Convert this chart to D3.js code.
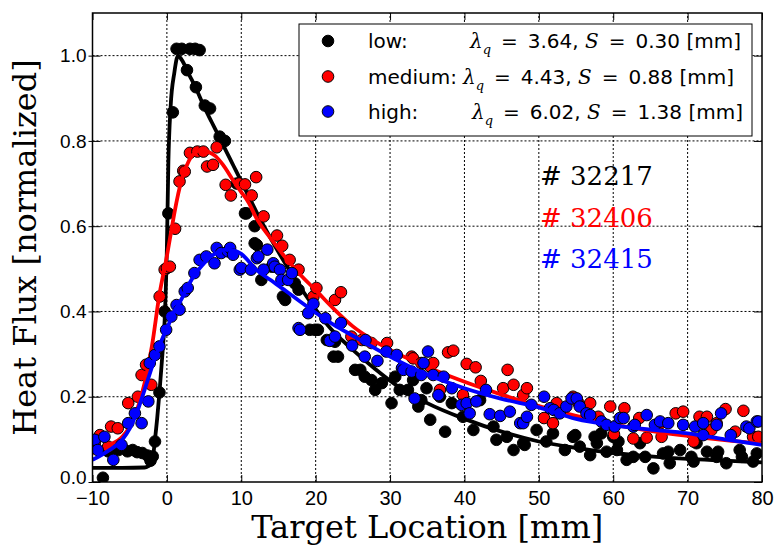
<!DOCTYPE html>
<html>
<head>
<meta charset="utf-8">
<script src="https://cdn.jsdelivr.net/npm/d3@7"></script>
<style>
  body { margin: 0; background: #fff; }
  svg { display: block; }
</style>
</head>
<body>
<div id="chart"></div>
<script>
// measured points, [target location mm, normalized heat flux]
const lowPoints = [[-8.6,0.01],[-7.9,0.072],[-7.2,0.078],[-6.5,0.075],[-6.0,0.08],[-5.3,0.072],[-4.6,0.075],[-4.0,0.07],[-3.3,0.068],[-2.6,0.062],[-2.2,0.05],[-1.9,0.06],[-1.6,0.095],[-1.0,0.21],[-0.3,0.40],[0.2,0.63],[0.8,0.867],[1.3,1.016],[2.0,1.016],[3.1,1.016],[3.8,1.016],[4.4,1.013],[2.7,0.966],[3.9,0.926],[5.1,0.883],[5.8,0.876],[7.1,0.81],[7.8,0.80],[9.4,0.70],[10.5,0.63],[10.7,0.63],[11.8,0.60],[11.8,0.56],[12.1,0.556],[12.7,0.474],[14.1,0.505],[15.6,0.435],[15.9,0.427],[17.2,0.466],[17.7,0.451],[19.2,0.357],[19.9,0.357],[20.3,0.357],[21.5,0.333],[22.4,0.294],[22.6,0.329],[23.0,0.294],[25.3,0.263],[26.0,0.263],[26.6,0.247],[27.5,0.239],[28.0,0.216],[28.9,0.232],[30.2,0.185],[30.7,0.247],[31.3,0.216],[32.4,0.216],[33.1,0.239],[33.8,0.177],[34.2,0.192],[34.9,0.22],[35.4,0.146],[36.7,0.2],[37.4,0.118],[38.3,0.185],[39.8,0.153],[41.2,0.122],[42.1,0.192],[43.9,0.130],[44.3,0.099],[45.7,0.106],[46.6,0.075],[47.9,0.091],[48.1,0.087],[49.7,0.122],[51.0,0.095],[51.9,0.114],[53.5,0.075],[54.6,0.106],[54.9,0.11],[55.5,0.083],[56.9,0.063],[57.5,0.106],[57.8,0.091],[58.4,0.114],[59.1,0.071],[60.0,0.106],[60.5,0.075],[60.7,0.095],[61.8,0.052],[62.7,0.059],[63.6,0.091],[64.3,0.059],[65.4,0.032],[66.7,0.067],[67.4,0.071],[67.6,0.044],[69.0,0.075],[70.5,0.059],[70.8,0.048],[71.2,0.091],[72.6,0.071],[73.9,0.059],[74.1,0.071],[75.2,0.044],[77.0,0.075],[77.3,0.059],[78.8,0.048],[79.3,0.067]];

const mediumPoints = [[-9.7,0.091],[-9.0,0.11],[-7.9,0.083],[-7.5,0.13],[-6.6,0.126],[-5.2,0.185],[-3.9,0.2],[-3.4,0.251],[-2.8,0.275],[-2.1,0.228],[-0.97,0.435],[-0.3,0.498],[0.0,0.502],[0.4,0.505],[1.1,0.594],[1.7,0.705],[2.2,0.73],[2.4,0.728],[3.1,0.772],[4.1,0.775],[4.9,0.775],[5.4,0.74],[6.2,0.744],[6.7,0.785],[7.9,0.697],[8.6,0.672],[9.7,0.70],[10.5,0.698],[11.4,0.672],[12.0,0.715],[13.0,0.623],[14.8,0.578],[15.5,0.554],[16.5,0.521],[17.7,0.498],[19.7,0.435],[20.1,0.455],[22.6,0.427],[23.4,0.445],[24.8,0.341],[26.2,0.333],[27.5,0.326],[29.6,0.326],[32.9,0.294],[33.1,0.29],[34.2,0.279],[35.4,0.271],[35.8,0.279],[36.7,0.216],[37.8,0.304],[38.5,0.308],[39.8,0.204],[40.3,0.277],[41.5,0.269],[42.2,0.237],[45.2,0.22],[45.8,0.263],[46.6,0.228],[47.9,0.204],[48.4,0.22],[50.7,0.15],[51.9,0.138],[52.4,0.185],[54.6,0.2],[55.3,0.186],[56.9,0.185],[58.0,0.153],[59.6,0.177],[60.1,0.112],[61.5,0.173],[62.7,0.102],[63.5,0.15],[64.5,0.104],[66.4,0.138],[66.5,0.106],[68.4,0.161],[69.4,0.165],[70.8,0.095],[71.6,0.153],[72.6,0.153],[73.2,0.122],[73.9,0.138],[75.1,0.171],[76.4,0.118],[77.5,0.167],[78.8,0.106],[79.5,0.106]];

const highPoints = [[-9.7,0.099],[-9.3,0.075],[-8.4,0.106],[-7.2,0.052],[-6.1,0.087],[-5.2,0.138],[-4.3,0.161],[-3.4,0.138],[-2.5,0.189],[-2.3,0.279],[-1.6,0.298],[-1.0,0.318],[-0.1,0.357],[0.6,0.388],[1.3,0.415],[1.7,0.404],[2.4,0.447],[2.8,0.455],[3.7,0.49],[4.4,0.521],[5.3,0.529],[6.4,0.513],[6.7,0.549],[7.3,0.537],[8.2,0.541],[8.5,0.549],[8.9,0.533],[9.8,0.498],[10.0,0.502],[11.3,0.498],[12.1,0.525],[12.3,0.529],[13.0,0.498],[13.5,0.545],[14.3,0.513],[14.5,0.505],[15.2,0.498],[15.4,0.474],[16.3,0.474],[16.8,0.49],[17.7,0.361],[17.9,0.357],[19.0,0.396],[19.7,0.418],[21.3,0.384],[21.9,0.331],[22.6,0.341],[23.4,0.373],[24.9,0.32],[26.7,0.333],[26.6,0.294],[28.3,0.284],[29.5,0.306],[30.9,0.298],[31.6,0.267],[31.8,0.263],[32.9,0.259],[33.3,0.196],[34.2,0.251],[34.5,0.279],[35.1,0.306],[35.8,0.251],[36.5,0.204],[37.2,0.247],[38.3,0.22],[39.6,0.181],[40.3,0.185],[40.7,0.161],[41.6,0.189],[42.9,0.216],[43.4,0.159],[44.8,0.155],[46.1,0.165],[47.5,0.138],[47.9,0.138],[48.4,0.153],[49.0,0.181],[50.7,0.2],[51.5,0.173],[52.0,0.169],[52.8,0.161],[53.7,0.177],[54.4,0.196],[55.1,0.196],[55.5,0.177],[56.4,0.161],[56.9,0.157],[58.4,0.142],[59.1,0.134],[60.2,0.13],[60.9,0.15],[61.4,0.15],[62.7,0.13],[62.9,0.134],[64.5,0.157],[65.6,0.134],[66.3,0.142],[67.4,0.138],[69.4,0.134],[71.0,0.13],[72.1,0.11],[72.1,0.138],[73.9,0.134],[74.5,0.161],[75.8,0.11],[77.9,0.13],[78.3,0.126],[79.3,0.142],[79.5,0.142]];

// fitted profiles
const lowFit = [[-10,0.033],[-6,0.033],[-3,0.034],[-2.5,0.037],[-2,0.045],[-1.6,0.1],[-1.3,0.15],[-1,0.21],[-0.6,0.3],[-0.3,0.38],[0,0.55],[0.2,0.75],[0.5,0.88],[1,0.96],[1.5,1.0],[2,0.99],[3,0.955],[4,0.92],[5,0.88],[6,0.845],[7,0.81],[8,0.775],[9,0.74],[10,0.705],[12,0.635],[14,0.57],[16,0.51],[18,0.455],[20,0.405],[22,0.36],[25,0.31],[28,0.265],[31,0.225],[35,0.185],[40,0.148],[45,0.118],[50,0.095],[55,0.08],[60,0.068],[65,0.06],[70,0.054],[75,0.05],[80,0.046]];

const mediumFit = [[-10,0.068],[-8,0.085],[-6,0.106],[-5,0.13],[-4,0.17],[-3,0.232],[-2,0.32],[-1,0.44],[0,0.53],[0.6,0.59],[1,0.63],[2,0.71],[3,0.755],[4,0.775],[4.6,0.78],[5.5,0.775],[6.5,0.765],[7.5,0.745],[9,0.705],[10,0.68],[11,0.655],[12,0.62],[14,0.57],[16,0.525],[18,0.485],[20,0.45],[22.5,0.405],[25,0.365],[27.5,0.335],[30,0.31],[35,0.27],[40,0.235],[45,0.205],[50,0.178],[55,0.155],[60,0.135],[65,0.12],[70,0.108],[75,0.098],[80,0.09]];

const highFit = [[-10,0.052],[-8,0.072],[-6,0.099],[-5,0.125],[-4,0.165],[-3,0.216],[-2,0.27],[-1,0.32],[0,0.36],[1,0.4],[2,0.43],[3,0.465],[4,0.492],[5,0.513],[6,0.53],[7,0.54],[8,0.545],[9,0.543],[10,0.535],[12,0.498],[14,0.473],[16,0.448],[18,0.422],[20,0.397],[22.5,0.368],[25,0.343],[27.5,0.318],[30,0.294],[35,0.252],[40,0.22],[45,0.195],[50,0.175],[55,0.148],[60,0.133],[65,0.123],[70,0.114],[75,0.1],[80,0.087]];

const seriesNames = ["low:", "medium:", "high:"];
const seriesColors = ["#000000", "#ff0000", "#0000ff"];
const lambdaValues = ["3.64", "4.43", "6.02"];
const sValues = ["0.30", "0.88", "1.38"];
const shotLabels = ["# 32217", "# 32406", "# 32415"];
const xTicks = [-10, 0, 10, 20, 30, 40, 50, 60, 70, 80];
const yTicks = [0, 0.2, 0.4, 0.6, 0.8, 1.0];

const width = 779, height = 549;
const margin = { left: 92.5, right: 17, top: 13, bottom: 67 };

const x = d3.scaleLinear().domain([-10, 80]).range([margin.left, width - margin.right]);
const y = d3.scaleLinear().domain([0, 1.1]).range([height - margin.bottom, margin.top]);

const svg = d3.select('#chart').append('svg')
    .attr('width', width)
    .attr('height', height)
    .style('font-family', '"DejaVu Serif", serif');

svg.append('defs').append('clipPath').attr('id', 'plotClip')
    .append('rect')
    .attr('x', x(-10)).attr('y', y(1.1))
    .attr('width', x(80) - x(-10)).attr('height', y(0) - y(1.1));

// dotted grid
const grid = svg.append('g').attr('class', 'grid')
    .attr('stroke', '#000').attr('stroke-width', 1).attr('stroke-dasharray', '2,2');
grid.selectAll('line.gx').data(xTicks.slice(1, -1)).join('line')
    .attr('x1', d => x(d)).attr('x2', d => x(d))
    .attr('y1', y(0)).attr('y2', y(1.1));
grid.selectAll('line.gy').data(yTicks.slice(1)).join('line')
    .attr('x1', x(-10)).attr('x2', x(80))
    .attr('y1', d => y(d)).attr('y2', d => y(d));

const plot = svg.append('g').attr('clip-path', 'url(#plotClip)');
const line = d3.line().x(d => x(d[0])).y(d => y(d[1])).curve(d3.curveMonotoneX);

const allPoints = [lowPoints, mediumPoints, highPoints];
const allFits = [lowFit, mediumFit, highFit];

allPoints.forEach((pts, i) => {
    plot.append('g').selectAll('circle').data(pts).join('circle')
        .attr('cx', d => x(d[0])).attr('cy', d => y(d[1]))
        .attr('r', 5.8)
        .attr('fill', seriesColors[i])
        .attr('stroke', '#000').attr('stroke-width', 1);
    plot.append('path').datum(allFits[i])
        .attr('d', line)
        .attr('fill', 'none')
        .attr('stroke', seriesColors[i])
        .attr('stroke-width', 3.8)
        .attr('stroke-linejoin', 'round');
});

// axes with inward ticks
const xAxis = svg.append('g')
    .attr('transform', `translate(0,${y(0)})`)
    .call(d3.axisBottom(x).tickValues(xTicks).tickSizeInner(-7).tickSizeOuter(0).tickPadding(9).tickFormat(d3.format('d')))
    .call(g => g.select('.domain').remove());
xAxis.selectAll('text').style('font-size', '20px').attr('fill', '#000').attr('dy', '0.71em');

svg.append('g')
    .attr('transform', `translate(0,${y(1.1)})`)
    .call(d3.axisTop(x).tickValues(xTicks).tickSizeInner(-7).tickSizeOuter(0).tickFormat(''))
    .call(g => g.select('.domain').remove());

const yAxis = svg.append('g')
    .attr('transform', `translate(${x(-10)},0)`)
    .call(d3.axisLeft(y).tickValues(yTicks).tickSizeInner(-8).tickSizeOuter(0).tickPadding(6).tickFormat(d3.format('.1f')))
    .call(g => g.select('.domain').remove());
yAxis.selectAll('text').style('font-size', '19px').attr('fill', '#000');
// the 0.0 label sits right above the -10 label, lift it a touch
yAxis.selectAll('text').filter(d => d === 0).attr('dy', '0.1em');
yAxis.selectAll('.tick').append('line').attr('x1', -4).attr('x2', 0).attr('stroke', '#000');

svg.append('g')
    .attr('transform', `translate(${x(80)},0)`)
    .call(d3.axisRight(y).tickValues(yTicks).tickSizeInner(-8).tickSizeOuter(0).tickFormat(''))
    .call(g => g.select('.domain').remove());

svg.selectAll('.tick line').attr('stroke-width', 1);

// frame
svg.append('rect')
    .attr('x', x(-10)).attr('y', y(1.1))
    .attr('width', x(80) - x(-10)).attr('height', y(0) - y(1.1))
    .attr('fill', 'none').attr('stroke', '#000').attr('stroke-width', 1.5);

// axis labels
svg.append('text')
    .attr('x', (x(-10) + x(80)) / 2).attr('y', 538)
    .attr('text-anchor', 'middle')
    .style('font-size', '32px')
    .text('Target Location [mm]');

svg.append('text')
    .attr('transform', `translate(36,${(y(0) + y(1.1)) / 2}) rotate(-90)`)
    .attr('text-anchor', 'middle')
    .style('font-size', '32px')
    .text('Heat Flux [normalized]');

// legend
const legend = svg.append('g').style('font-family', '"DejaVu Sans", sans-serif').style('font-size', '20px');
legend.append('rect')
    .attr('x', 299).attr('y', 24).attr('width', 453).attr('height', 112)
    .attr('fill', '#fff').attr('stroke', '#000').attr('stroke-width', 1);

const rowY = [41, 76.5, 111.5];
const mathX = [470, 463, 472];
seriesNames.forEach((name, i) => {
    legend.append('circle')
        .attr('cx', 328).attr('cy', rowY[i]).attr('r', 5.8)
        .attr('fill', seriesColors[i]).attr('stroke', '#000');
    legend.append('text')
        .attr('x', 368).attr('y', rowY[i] + 7)
        .text(name);
    const t = legend.append('text')
        .attr('x', mathX[i]).attr('y', rowY[i] + 7)
        .style('white-space', 'pre');
    t.append('tspan').style('font-family', '"DejaVu Serif", serif').style('font-style', 'italic').text('λ');
    t.append('tspan').attr('dy', 6).style('font-size', '13px')
        .style('font-family', '"DejaVu Serif", serif').style('font-style', 'italic').text('q');
    t.append('tspan').attr('dy', -6).text('\u2002=\u2002' + lambdaValues[i] + ', ');
    t.append('tspan').style('font-family', '"DejaVu Serif", serif').style('font-style', 'italic').text('S');
    t.append('tspan').text('\u2002=\u2002' + sValues[i] + ' [mm]');
});

// shot numbers
const shotY = [185, 227, 268];
shotLabels.forEach((s, i) => {
    svg.append('text')
        .attr('x', 540).attr('y', shotY[i])
        .attr('fill', seriesColors[i])
        .style('font-size', '26px')
        .text(s);
});
</script>
</body>
</html>
